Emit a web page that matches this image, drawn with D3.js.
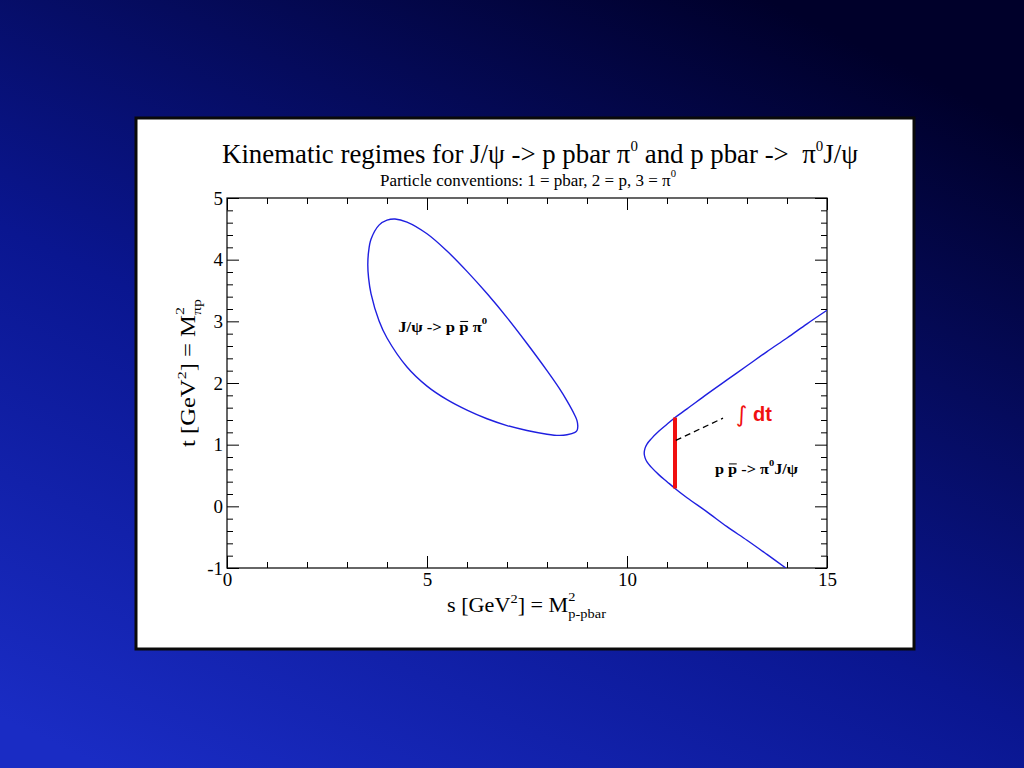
<!DOCTYPE html>
<html><head><meta charset="utf-8">
<script src="https://cdn.jsdelivr.net/npm/d3@7"></script>
<style>html,body{margin:0;padding:0;overflow:hidden;background:#000040} text{white-space:pre}</style>
</head><body>
<svg id="c" width="1024" height="768"></svg>
<script>
// ---------------- data ----------------
const xDomain = [0, 15];
const yDomain = [-1, 5];
const xMajorTicks = [0, 5, 10, 15];
const xMinorTicks = [1, 2, 3, 4, 6, 7, 8, 9, 11, 12, 13, 14];
const yMajorTicks = [-1, 0, 1, 2, 3, 4, 5];
const yMinorTicks = [-0.8, -0.6, -0.4, -0.2, 0.2, 0.4, 0.6, 0.8, 1.2, 1.4, 1.6, 1.8,
  2.2, 2.4, 2.6, 2.8, 3.2, 3.4, 3.6, 3.8, 4.2, 4.4, 4.6, 4.8];

// J/psi -> p pbar pi0 Dalitz boundary (closed)
const decayS = [3.52, 3.54, 3.6, 3.8, 4.0, 4.2, 4.5, 5.0, 5.5, 6.0, 6.5, 7.0, 7.5, 8.0, 8.3, 8.5, 8.7, 8.75, 8.77,
                8.75, 8.7, 8.5, 8.3, 8.0, 7.5, 7.0, 6.5, 6.0, 5.5, 5.0, 4.5, 4.0, 3.8, 3.6, 3.54];
const decayT = [3.92, 4.13, 4.33, 4.56, 4.64, 4.66, 4.61, 4.42, 4.14, 3.81, 3.45, 3.06, 2.64, 2.20, 1.92, 1.71, 1.47, 1.39, 1.30,
                1.23, 1.20, 1.16, 1.15, 1.17, 1.23, 1.31, 1.42, 1.56, 1.73, 1.95, 2.26, 2.73, 3.01, 3.45, 3.70];

// p pbar -> pi0 J/psi physical region boundary
const scatS = [13.97, 13.5, 13.0, 12.5, 12.0, 11.5, 11.2, 11.0, 10.8, 10.6, 10.5, 10.45, 10.43,
               10.45, 10.5, 10.6, 10.8, 11.0, 11.2, 11.5, 12.0, 12.5, 13.0, 13.5, 14.0, 14.5, 15.0];
const scatT = [-1.0, -0.78, -0.55, -0.33, -0.09, 0.14, 0.29, 0.40, 0.51, 0.64, 0.72, 0.79, 0.86,
               0.94, 1.01, 1.09, 1.22, 1.33, 1.44, 1.58, 1.82, 2.05, 2.28, 2.51, 2.73, 2.96, 3.18];

// integration segment
const integS = [11.2, 11.2];
const integT = [0.29, 1.44];
const pointerS = [11.22, 12.4];
const pointerT = [1.07, 1.43];

// ---------------- drawing ----------------
const svg = d3.select("#c");
const defs = svg.append("defs");
const grad = defs.append("linearGradient").attr("id", "bg")
  .attr("x1", "0.1").attr("y1", "1").attr("x2", "0.75").attr("y2", "0");
grad.append("stop").attr("offset", "0%").attr("stop-color", "#1a2cc4");
grad.append("stop").attr("offset", "45%").attr("stop-color", "#0a1690");
grad.append("stop").attr("offset", "100%").attr("stop-color", "#00002a");
svg.append("rect").attr("width", 1024).attr("height", 768).attr("fill", "url(#bg)");

// white panel
svg.append("rect").attr("x", 136).attr("y", 118).attr("width", 778).attr("height", 531)
  .attr("fill", "#fff").attr("stroke", "#0a0a0a").attr("stroke-width", 3);

const X0 = 227, X1 = 827, Y0 = 568, Y1 = 198;
const x = d3.scaleLinear().domain(xDomain).range([X0, X1]);
const y = d3.scaleLinear().domain(yDomain).range([Y0, Y1]);

defs.append("clipPath").attr("id", "plot").append("rect")
  .attr("x", X0).attr("y", Y1).attr("width", X1 - X0).attr("height", Y0 - Y1);

const serif = "'Liberation Serif','Times New Roman',serif";
const fmt = d => String(d);

function styleAxis(g) {
  g.select(".domain").remove();
  g.selectAll(".tick line").attr("stroke", "#000").attr("stroke-width", 1);
  g.selectAll(".tick text").attr("font-family", serif).attr("font-size", 19).attr("fill", "#000");
}
// bottom
svg.append("g").attr("transform", `translate(0,${Y0})`)
  .call(d3.axisBottom(x).tickValues(xMajorTicks).tickSize(-12).tickPadding(5).tickFormat(fmt)).call(styleAxis);
svg.append("g").attr("transform", `translate(0,${Y0})`)
  .call(d3.axisBottom(x).tickValues(xMinorTicks).tickSize(-6).tickFormat("")).call(styleAxis);
// top
svg.append("g").attr("transform", `translate(0,${Y1})`)
  .call(d3.axisTop(x).tickValues(xMajorTicks).tickSize(-12).tickFormat("")).call(styleAxis);
svg.append("g").attr("transform", `translate(0,${Y1})`)
  .call(d3.axisTop(x).tickValues(xMinorTicks).tickSize(-6).tickFormat("")).call(styleAxis);
// left
svg.append("g").attr("transform", `translate(${X0},0)`)
  .call(d3.axisLeft(y).tickValues(yMajorTicks).tickSize(-12).tickPadding(4).tickFormat(fmt)).call(styleAxis);
svg.append("g").attr("transform", `translate(${X0},0)`)
  .call(d3.axisLeft(y).tickValues(yMinorTicks).tickSize(-6).tickFormat("")).call(styleAxis);
// right
svg.append("g").attr("transform", `translate(${X1},0)`)
  .call(d3.axisRight(y).tickValues(yMajorTicks).tickSize(-12).tickFormat("")).call(styleAxis);
svg.append("g").attr("transform", `translate(${X1},0)`)
  .call(d3.axisRight(y).tickValues(yMinorTicks).tickSize(-6).tickFormat("")).call(styleAxis);

// frame
svg.append("rect").attr("x", X0).attr("y", Y1).attr("width", X1 - X0).attr("height", Y0 - Y1)
  .attr("fill", "none").attr("stroke", "#000").attr("stroke-width", 1.2);

// curves
const plot = svg.append("g").attr("clip-path", "url(#plot)");
const decayPts = decayS.map((s, i) => [s, decayT[i]]);
const scatPts = scatS.map((s, i) => [s, scatT[i]]);
plot.append("path")
  .attr("d", d3.line().x(d => x(d[0])).y(d => y(d[1])).curve(d3.curveCatmullRomClosed.alpha(0.5))(decayPts))
  .attr("fill", "none").attr("stroke", "#1f1fe0").attr("stroke-width", 1.4);
plot.append("path")
  .attr("d", d3.line().x(d => x(d[0])).y(d => y(d[1])).curve(d3.curveCatmullRom.alpha(0.5))(scatPts))
  .attr("fill", "none").attr("stroke", "#1f1fe0").attr("stroke-width", 1.4);

plot.append("line")
  .attr("x1", x(integS[0])).attr("x2", x(integS[1])).attr("y1", y(integT[0])).attr("y2", y(integT[1]))
  .attr("stroke", "#f01010").attr("stroke-width", 4);
plot.append("line")
  .attr("x1", x(pointerS[0])).attr("x2", x(pointerS[1])).attr("y1", y(pointerT[0])).attr("y2", y(pointerT[1]))
  .attr("stroke", "#000").attr("stroke-width", 1.3).attr("stroke-dasharray", "6,4");

// rich text helper
function rich(parent, x0, y0, pieces, base, targetW) {
  const g = parent.append("g");
  let cx = 0, prevStart = 0, prevEnd = 0;
  pieces.forEach(p => {
    const size = p.size || base.size;
    const dy = p.dy || 0;
    const t = g.append("text").attr("y", dy)
      .attr("xml:space", "preserve").style("white-space", "pre")
      .attr("font-family", base.family).attr("font-size", size)
      .attr("font-weight", p.weight || base.weight || "normal")
      .attr("fill", p.fill || base.fill || "#000").text(p.t);
    const start = (p.stack ? prevStart : cx) + (p.dx || 0);
    t.attr("x", start);
    const w = t.node().getComputedTextLength();
    const end = start + w;
    if (p.over) {
      g.append("line").attr("x1", start + w * 0.1).attr("x2", start + w * 0.95)
        .attr("y1", dy - size * 0.74).attr("y2", dy - size * 0.74)
        .attr("stroke", base.fill || "#000").attr("stroke-width", 1);
    }
    cx = p.stack ? Math.max(prevEnd, end) : end;
    prevStart = start; prevEnd = end;
  });
  const sx = targetW ? targetW / cx : 1;
  g.attr("transform", `translate(${x0},${y0}) scale(${sx},1)`);
  return g;
}

// title
rich(svg, 222, 163, [
  { t: "Kinematic regimes for J/\u03C8 -> p pbar \u03C0" },
  { t: "0", size: 15, dy: -12 },
  { t: " and p pbar ->  \u03C0" },
  { t: "0", size: 15, dy: -12 },
  { t: "J/\u03C8" }
], { family: serif, size: 27 }, 636);

rich(svg, 380, 186, [
  { t: "Particle conventions: 1 = pbar, 2 = p, 3 = \u03C0" },
  { t: "0", size: 10, dy: -9 }
], { family: serif, size: 16 }, 296);

// x axis title
rich(svg, 447, 612, [
  { t: "s [GeV" },
  { t: "2", size: 13, dy: -9 },
  { t: "] = M" },
  { t: "2", size: 13, dy: -11 },
  { t: "p-pbar", size: 13, dy: 6, stack: true }
], { family: serif, size: 20 }, 159);

// y axis title
const yl = svg.append("g").attr("transform", "translate(195,447) rotate(-90)");
rich(yl, 0, 0, [
  { t: "t [GeV" },
  { t: "2", size: 13, dy: -9 },
  { t: "] = M" },
  { t: "2", size: 13, dy: -11 },
  { t: "\u03C0p", size: 13, dy: 6, stack: true }
], { family: serif, size: 20 }, 148);

// in-plot labels
rich(svg, x(4.28), y(2.83), [
  { t: "J/\u03C8 -> p " },
  { t: "p", over: true },
  { t: " \u03C0" },
  { t: "0", size: 9, dy: -8 }
], { family: serif, size: 14, weight: "bold" }, 89);

rich(svg, x(12.2), y(0.52), [
  { t: "p " },
  { t: "p", over: true },
  { t: " -> \u03C0" },
  { t: "0", size: 9, dy: -8 },
  { t: "J/\u03C8" }
], { family: serif, size: 14, weight: "bold" }, 83);

svg.append("text").attr("x", x(12.72)).attr("y", y(1.36))
  .attr("font-family", "'DejaVu Sans',sans-serif").attr("font-size", 22)
  .attr("fill", "#f01010").text("\u222B");
svg.append("text").attr("x", x(13.15)).attr("y", y(1.385))
  .attr("font-family", "'Liberation Sans',Arial,sans-serif").attr("font-size", 20).attr("font-weight", "bold")
  .attr("fill", "#f01010").text("dt");
</script>
</body></html>
